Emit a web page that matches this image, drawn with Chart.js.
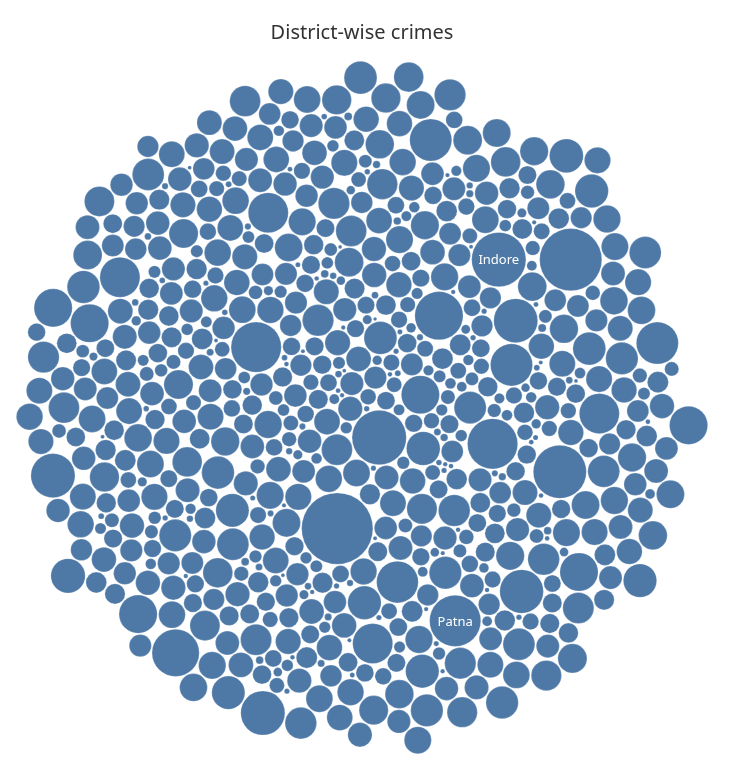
<!DOCTYPE html>
<html><head><meta charset="utf-8">
<script src="https://cdn.jsdelivr.net/npm/chart.js@4.4.1/dist/chart.umd.min.js"></script>
<style>html,body{margin:0;padding:0;background:#fff}canvas{display:block}</style>
</head><body>
<canvas id="c" width="745" height="771"></canvas>
<script>
const chartTitle = "District-wise crimes";
const namedDistricts = ["Indore", "Patna"];
const namedCrimes = [9000, 8000];
// estimated crime totals per district (bubble area), in the order they are packed
const crimes = [
1820,95,9000,760,1650,410,60,980,2050,310,1120,75,880,1530,2900,140,690,1900,380,850,
1710,45,720,2240,460,1050,4450,120,940,1580,280,66,1390,810,1960,350,110,1030,3300,700,
1480,430,85,1150,2180,650,3450,90,1600,930,270,1770,52,740,1280,480,2010,130,1080,590,
2320,150,870,15500,1550,330,3000,70,1190,690,1880,400,58,960,1420,2120,260,105,790,1670,
450,7700,1340,80,2070,620,1010,2780,175,1460,360,900,40,1730,830,2260,290,125,1210,3150,
640,1590,7100,98,1110,2150,420,780,1360,62,1940,300,1000,2480,160,710,1520,440,88,1250,
2000,7700,520,1070,145,1790,860,2400,340,72,1310,950,1640,230,3250,600,1170,55,1850,470,
1440,115,2090,730,3050,390,1220,50,1620,920,2200,250,980,1380,83,1760,560,2550,135,1040,
5400,680,1900,320,1500,68,1130,2300,810,190,1680,430,3350,1020,92,1400,760,1990,270,880,
1560,5900,47,1230,2140,580,970,155,1830,2700,360,1090,78,1470,830,2060,410,118,1300,700,
2250,940,5300,60,1600,510,3100,1180,240,1720,880,100,2020,1350,450,750,2600,65,1450,990,
1870,170,1060,2380,380,1540,87,2900,820,1260,310,1950,42,1100,660,2150,140,1650,530,1000,
1390,9000,230,1780,920,57,2110,1210,480,3200,770,1500,125,1920,350,1060,2450,73,1330,620,
2040,860,1470,190,3400,1140,420,1700,94,2280,960,280,1580,45,1250,2000,570,820,150,1810,
1020,8600,340,1400,2550,79,1160,730,1990,410,2180,110,1530,900,3000,260,1300,63,1740,640,
4900,1080,180,1660,2230,500,950,1420,54,1880,320,2700,1200,86,780,1560,2090,440,130,1010,
1930,610,1290,2450,97,1750,380,3150,870,1480,200,1040,2120,48,1360,690,1860,290,1150,2350,
8000,740,1610,122,2050,990,460,1330,69,2850,1820,350,1090,1570,160,2200,810,1270,530,88,
1700,5800,1050,270,1950,2500,76,1380,840,1640,400,3300,1120,58,2070,720,1450,230,1900,960,
1240,4900,2180,142,1530,600,3050,1010,91,1790,490,2300,1180,310,1670,850,44,1960,1350,680,
2110,4900,370,1480,1070,66,2600,1720,540,930,2020,185,1410,2950,770,1190,105,1580,430,2260,
880,11800,1630,280,2100,1300,52,1850,3200,640,1140,1990,165,1470,820,2400,390,1030,71,1760,
1280,2160,455,1590,96,2750,1100,700,1900,240,1380,2050,61,1690,930,3100,350,1220,1820,140,
4900,1510,800,2220,58,1360,1950,520,1060,2650,175,1740,980,300,2100,1430,83,1620,660,2300,
5400,1170,1880,420,2500,74,1520,1010,2030,260,3400,1290,710,1700,128,2180,890,1400,49,1980,
4450,610,1610,2270,155,1230,1850,480,3000,970,1440,67,2080,1710,330,1090,2560,850,112,1540,
4450,1920,740,1350,2350,59,1640,2900,410,1160,2060,210,1500,880,1810,93,2200,1260,560,1700,
6800,1030,2450,180,1580,2000,640,3250,1310,77,1890,1120,2150,380,1460,2700,140,1750,920,1380,
4450,2080,510,1650,1200,2500,63,1920,3100,820,1440,240,2280,1080,1760,108,2600,1330,690,1990,
5950,1570,2350,350,1140,2950,1860,86,1480,2150,590,1700,3350,1010,195,2040,1390,46,1800,2500,
5400,1260,2200,780,1690,3000,120,1950,1420,2650,450,1100,2080,1540,72,1870,2400,960,1630,3200,
5950,2000,1360,2550,620,1780,2250,98,1500,3050,1180,1910,300,2400,1620,860,2800,1320,1750,2100,
4450,1450,2300,1850,3400,950,1600,2650,1250,2050,3100,1700,2450,1400,2200,1950,3300,1550,2750,1800,
4450,2150,3500,1650,2900,2350,1900,3200,2500,1750,2600,3000,2100,2800,3400,2250,3100,2700,3600,2400
];

// ---- front-chain circle packing (same algorithm as d3.packSiblings) ----
function place(b, a, c) {
  let dx = b.x - a.x, dy = b.y - a.y, d2 = dx*dx + dy*dy, x, y, a2, b2;
  if (d2) {
    a2 = a.r + c.r; a2 *= a2;
    b2 = b.r + c.r; b2 *= b2;
    if (a2 > b2) {
      x = (d2 + b2 - a2) / (2*d2);
      y = Math.sqrt(Math.max(0, b2/d2 - x*x));
      c.x = b.x - x*dx - y*dy; c.y = b.y - x*dy + y*dx;
    } else {
      x = (d2 + a2 - b2) / (2*d2);
      y = Math.sqrt(Math.max(0, a2/d2 - x*x));
      c.x = a.x + x*dx - y*dy; c.y = a.y + x*dy + y*dx;
    }
  } else { c.x = a.x + c.r; c.y = a.y; }
}
function intersects(a, b) {
  const dr = a.r + b.r - 1e-6, dx = b.x - a.x, dy = b.y - a.y;
  return dr > 0 && dr*dr > dx*dx + dy*dy;
}
function score(node) {
  const a = node._, b = node.next._, ab = a.r + b.r;
  const dx = (a.x*b.r + b.x*a.r)/ab, dy = (a.y*b.r + b.y*a.r)/ab;
  return dx*dx + dy*dy;
}
function Node(c) { this._ = c; this.next = null; this.previous = null; }
function packSiblings(circles) {
  const n = circles.length;
  let a, b, c, aa, ca, i, j, k, sj, sk;
  a = circles[0]; a.x = 0; a.y = 0;
  b = circles[1]; a.x = -b.r; b.x = a.r; b.y = 0;
  place(b, a, c = circles[2]);
  a = new Node(a); b = new Node(b); c = new Node(c);
  a.next = c.previous = b; b.next = a.previous = c; c.next = b.previous = a;
  pack: for (i = 3; i < n; ++i) {
    place(a._, b._, c = circles[i]); c = new Node(c);
    j = b.next; k = a.previous; sj = b._.r; sk = a._.r;
    do {
      if (sj <= sk) {
        if (intersects(j._, c._)) { b = j; a.next = b; b.previous = a; --i; continue pack; }
        sj += j._.r; j = j.next;
      } else {
        if (intersects(k._, c._)) { a = k; a.next = b; b.previous = a; --i; continue pack; }
        sk += k._.r; k = k.previous;
      }
    } while (j !== k.next);
    c.previous = a; c.next = b; a.next = b.previous = b = c;
    aa = score(a);
    while ((c = c.next) !== b) { if ((ca = score(c)) < aa) { a = c; aa = ca; } }
    b = a.next;
  }
}

const PAD = 0.7;
const AREA = {x0: 14, x1: 710, y0: 55, y1: 760};
function bbox(cs) {
  let x0 = Infinity, x1 = -Infinity, y0 = Infinity, y1 = -Infinity;
  cs.forEach(c => { x0 = Math.min(x0, c.x - c.r); x1 = Math.max(x1, c.x + c.r);
                    y0 = Math.min(y0, c.y - c.r); y1 = Math.max(y1, c.y + c.r); });
  return {x0, x1, y0, y1};
}
let kScale = 0.3, circles, bb;
for (let it = 0; it < 6; it++) {
  circles = crimes.map(v => ({ r: Math.sqrt(v)*kScale + PAD }));
  packSiblings(circles);
  bb = bbox(circles);
  const s = Math.min((AREA.x1-AREA.x0)/(bb.x1-bb.x0), (AREA.y1-AREA.y0)/(bb.y1-bb.y0));
  kScale *= s;
}
circles = crimes.map(v => ({ r: Math.sqrt(v)*kScale + PAD }));
packSiblings(circles);
bb = bbox(circles);
const offX = (AREA.x0 + AREA.x1)/2 - (bb.x0 + bb.x1)/2;
const offY = (AREA.y0 + AREA.y1)/2 - (bb.y0 + bb.y1)/2;
const points = circles.map((c, i) => ({ x: c.x + offX, y: c.y + offY, r: c.r - PAD, v: crimes[i] }));

const labelIdx = namedCrimes.map(v => crimes.lastIndexOf(v));

const titlePlugin = {
  id: 'titleText',
  afterDraw(chart) {
    const ctx = chart.ctx;
    ctx.save();
    ctx.font = '20px "Noto Sans", "Open Sans", sans-serif';
    ctx.fillStyle = '#333333';
    ctx.textAlign = 'center'; ctx.textBaseline = 'middle';
    ctx.fillText(chartTitle, 362, 33);
    ctx.restore();
  }
};
const labelPlugin = {
  id: 'bubbleLabels',
  afterDatasetsDraw(chart) {
    const ctx = chart.ctx, meta = chart.getDatasetMeta(0);
    ctx.save();
    ctx.font = '13px "Noto Sans", "Open Sans", sans-serif';
    ctx.fillStyle = '#ffffff';
    ctx.textAlign = 'center'; ctx.textBaseline = 'middle';
    labelIdx.forEach((idx, n) => {
      if (idx < 0) return;
      const el = meta.data[idx];
      ctx.fillText(namedDistricts[n], el.x, el.y + 1);
    });
    ctx.restore();
  }
};

new Chart(document.getElementById('c'), {
  type: 'bubble',
  data: { datasets: [{
    data: points,
    backgroundColor: '#4e79a7',
    borderColor: 'rgba(255,255,255,0.35)',
    borderWidth: 0.6,
    hoverBorderWidth: 0.6,
    hoverRadius: 0,
    clip: false
  }]},
  options: {
    responsive: false,
    devicePixelRatio: 1,
    animation: false,
    events: [],
    layout: { padding: 0, autoPadding: false },
    plugins: { legend: { display: false }, tooltip: { enabled: false }, title: { display: false } },
    scales: {
      x: { type: 'linear', min: 0, max: 745, display: false },
      y: { type: 'linear', min: 0, max: 771, reverse: true, display: false }
    }
  },
  plugins: [titlePlugin, labelPlugin]
});
</script>
</body></html>
